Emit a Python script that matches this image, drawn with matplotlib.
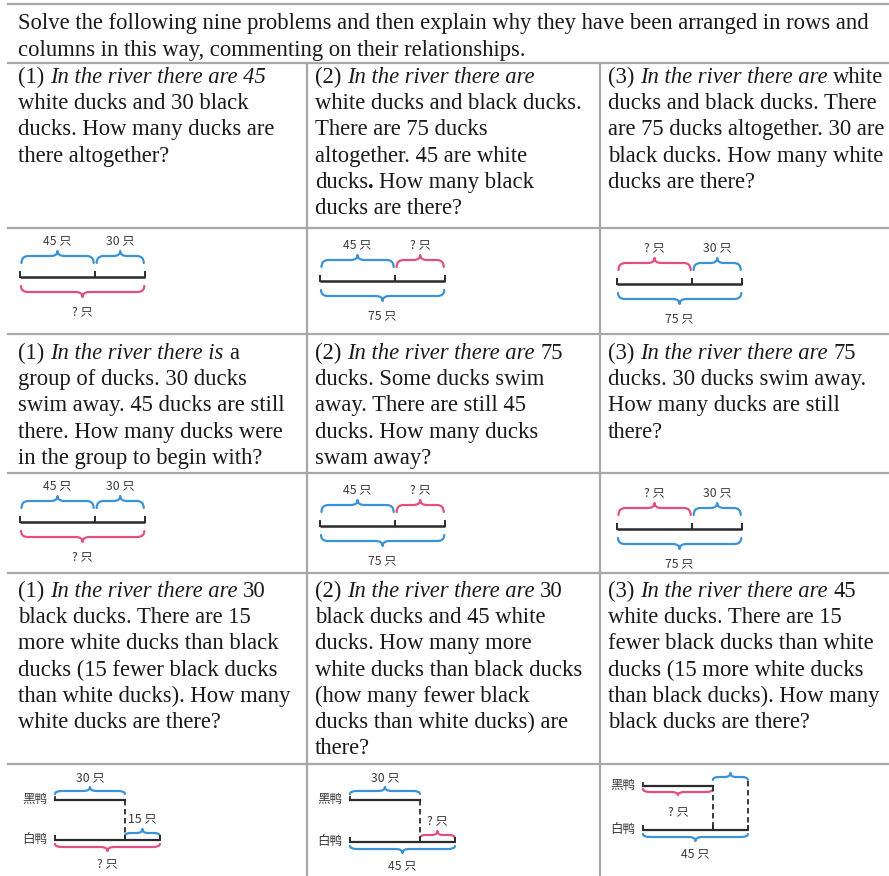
import re
import matplotlib
matplotlib.use("Agg")
import matplotlib.pyplot as plt
from matplotlib.path import Path
from matplotlib.patches import PathPatch

W, H = 889, 876
SERIF = "Liberation Serif"
CJK = ["Noto Sans CJK SC", "DejaVu Sans"]
FS = 16.3
TEXT = "#1a1a1a"
GRID = "#a8a8a8"
BLUE = "#3b93d6"
PINK = "#e2507f"
INK = "#2b2b2b"
LABEL = "#3a3a3a"

# ---- text ----
heading = [
    "Solve the following nine problems and then explain why they have been arranged in rows and",
    "columns in this way, commenting on their relationships.",
]

# _..._ italic, ^..^ bold
cell_texts = [
    ["(1) _In the river there are 45_", "white ducks and 30 black",
     "ducks. How many ducks are", "there altogether?"],
    ["(2) _In the river there are_", "white ducks and black ducks.",
     "There are 75 ducks", "altogether. 45 are white",
     "ducks^.^ How many black", "ducks are there?"],
    ["(3) _In the river there are_ white", "ducks and black ducks. There",
     "are 75 ducks altogether. 30 are", "black ducks. How many white",
     "ducks are there?"],
    ["(1) _In the river there is_ a", "group of ducks. 30 ducks",
     "swim away. 45 ducks are still", "there. How many ducks were",
     "in the group to begin with?"],
    ["(2) _In the river there are_ 75", "ducks. Some ducks swim",
     "away. There are still 45", "ducks. How many ducks", "swam away?"],
    ["(3) _In the river there are_ 75", "ducks. 30 ducks swim away.",
     "How many ducks are still", "there?"],
    ["(1) _In the river there are_ 30", "black ducks. There are 15",
     "more white ducks than black", "ducks (15 fewer black ducks",
     "than white ducks). How many", "white ducks are there?"],
    ["(2) _In the river there are_ 30", "black ducks and 45 white",
     "ducks. How many more", "white ducks than black ducks",
     "(how many fewer black", "ducks than white ducks) are", "there?"],
    ["(3) _In the river there are_ 45", "white ducks. There are 15",
     "fewer black ducks than white", "ducks (15 more white ducks",
     "than black ducks). How many", "black ducks are there?"],
]

# ---- diagram values ----
white_n = 45
black_n = 30
parts = [white_n, black_n]

pw_top_labels = [["45 只", "30 只"], ["45 只", "? 只"], ["? 只", "30 只"]]
pw_bottom_labels = ["? 只", "75 只", "75 只"]
pw_top_colors = [[BLUE, BLUE], [BLUE, PINK], [PINK, BLUE]]
pw_bottom_colors = [PINK, BLUE, BLUE]

cmp_black_labels = ["30 只", "30 只", "? 只"]
cmp_diff_labels = ["15 只", "? 只", ""]
cmp_white_labels = ["? 只", "45 只", "45 只"]
cmp_black_colors = [BLUE, BLUE, PINK]
cmp_diff_colors = [BLUE, PINK, BLUE]
cmp_white_colors = [PINK, BLUE, BLUE]
cmp_black_side = ["above", "above", "below"]
cmp_diff_level = ["white", "white", "black"]
names = ["黑鸭", "白鸭"]

# ---- layout ----
hlines = [4, 63, 228, 334, 473, 573, 764]
vlines = [307, 600]
col_x = [18, 315, 608]
text_tops = [63, 334, 573]
diag_tops = [228, 473]
first_base = [20, 25, 24]
LEAD = 26.2

fig = plt.figure(figsize=(W / 100, H / 100), dpi=100)
ax = fig.add_axes([0, 0, 1, 1])
ax.set_xlim(0, W)
ax.set_ylim(H, 0)
ax.axis("off")
renderer = fig.canvas.get_renderer()


def width_of(t):
    return t.get_window_extent(renderer).width


probe = ax.text(0, -50, "xx", fontfamily=SERIF, fontsize=FS)
probe2 = ax.text(0, -50, "x x", fontfamily=SERIF, fontsize=FS)
SPACE = width_of(probe2) - width_of(probe)
probe.remove()
probe2.remove()


def draw_line(x, y, line):
    italic = bold = False
    for piece in re.split(r"([_^])", line):
        if piece == "_":
            italic = not italic
            continue
        if piece == "^":
            bold = not bold
            continue
        if not piece:
            continue
        lead = len(piece) - len(piece.lstrip(" "))
        trail = len(piece) - len(piece.rstrip(" "))
        x += lead * SPACE
        core = piece.strip(" ")
        if core:
            t = ax.text(x, y, core, fontfamily=SERIF, fontsize=FS, color=TEXT,
                        fontstyle="italic" if italic else "normal",
                        fontweight="bold" if bold else "normal",
                        ha="left", va="baseline")
            x += width_of(t)
        x += trail * SPACE


def brace(x0, x1, y, depth, tip, color, up=True, lw=1.6):
    s = -1 if up else 1
    xm = (x0 + x1) / 2
    r = min(7, (x1 - x0) / 6)
    yf = y + s * depth
    yt = y + s * (depth + tip)
    verts = [(x0, y), (x0, yf), (x0 + r, yf),
             (xm - r, yf), (xm, yf), (xm, yt),
             (xm, yf), (xm + r, yf),
             (x1 - r, yf), (x1, yf), (x1, y)]
    codes = [Path.MOVETO, Path.CURVE3, Path.CURVE3, Path.LINETO,
             Path.CURVE3, Path.CURVE3, Path.CURVE3, Path.CURVE3,
             Path.LINETO, Path.CURVE3, Path.CURVE3]
    ax.add_patch(PathPatch(Path(verts, codes), fc="none", ec=color, lw=lw,
                           capstyle="round", joinstyle="round"))
    return yt


def label(x, y, s, size=8.8):
    ax.text(x, y, s, family=CJK, fontsize=size, color=LABEL, ha="center", va="center")


def bar(x_pts, y, tick=5, lw=1.8):
    ax.plot([x_pts[0], x_pts[-1]], [y, y], color=INK, lw=lw, solid_capstyle="butt")
    for xp in x_pts:
        ax.plot([xp, xp], [y - tick, y], color=INK, lw=1.4)


# grid
for y in hlines:
    ax.plot([8, W], [y, y], color=GRID, lw=1.6)
for x in vlines:
    ax.plot([x, x], [hlines[1], H], color=GRID, lw=1.6)

# heading
draw_line(col_x[0], 29, heading[0])
draw_line(col_x[0], 56, heading[1])

# problem texts
for k, lines in enumerate(cell_texts):
    r, c = divmod(k, 3)
    y0 = text_tops[r] + first_base[r]
    for j, line in enumerate(lines):
        draw_line(col_x[c], y0 + j * LEAD, line)

# part-whole diagrams (rows 1 and 2)
K1 = 1.67
pw_x = [20, 320, 617]
pw_dy = [-4, 0, 3]
for top in diag_tops:
    for c in range(3):
        yb = top + 53 + pw_dy[c]
        xs = [pw_x[c]]
        for v in parts:
            xs.append(xs[-1] + v * K1)
        for j in range(2):
            a, b = xs[j] + 1.5, xs[j + 1] - 1.5
            yt = brace(a, b, yb - 14, 7, 5, pw_top_colors[c][j], up=True)
            label((a + b) / 2, yt - 10, pw_top_labels[c][j])
        bar(xs, yb)
        yt = brace(xs[0] + 1, xs[-1] - 1, yb + 9, 6, 5, pw_bottom_colors[c], up=False)
        label((xs[0] + xs[-1]) / 2, yt + 15, pw_bottom_labels[c])

# comparison diagrams (row 3)
K2 = 2.33
cmp_x = [55, 350, 643]
cmp_yb = [800, 800, 786]
cmp_yw = [840, 842, 830]
for c in range(3):
    x0, yb, yw = cmp_x[c], cmp_yb[c], cmp_yw[c]
    xb = x0 + black_n * K2
    xw = x0 + white_n * K2
    label(x0 - 20, yb - 1, names[0], size=9)
    label(x0 - 20, yw - 1, names[1], size=9)
    ax.plot([x0, xb], [yb, yb], color=INK, lw=1.6)
    ax.plot([x0, x0], [yb - 3, yb], color=INK, lw=1.3)
    bar([x0, xb, xw], yw, tick=4, lw=1.6)
    ax.plot([xb, xb], [yb, yw], color=INK, lw=1.3, ls=(0, (3, 2)))
    # black brace
    if cmp_black_side[c] == "above":
        yt = brace(x0, xb, yb - 6, 3, 4, cmp_black_colors[c], up=True)
        label((x0 + xb) / 2, yt - 9, cmp_black_labels[c])
    else:
        yt = brace(x0, xb, yb + 3, 3, 3, cmp_black_colors[c], up=False)
        label((x0 + xb) / 2, yt + 17, cmp_black_labels[c])
    # difference brace
    if cmp_diff_level[c] == "white":
        yt = brace(xb, xw, yw - 4, 3, 4, cmp_diff_colors[c], up=True)
        label((xb + xw) / 2, yt - 10, cmp_diff_labels[c])
    else:
        yt = brace(xb, xw, yb - 6, 3, 4, cmp_diff_colors[c], up=True)
        ax.plot([xw, xw], [yb - 5, yw], color=INK, lw=1.3, ls=(0, (3, 2)))
        if cmp_diff_labels[c]:
            label((xb + xw) / 2, yt - 10, cmp_diff_labels[c])
    # white brace
    yt = brace(x0, xw, yw + 4, 3, 4, cmp_white_colors[c], up=False)
    label((x0 + xw) / 2, yt + 13, cmp_white_labels[c])

fig.savefig("out.png", dpi=100)
